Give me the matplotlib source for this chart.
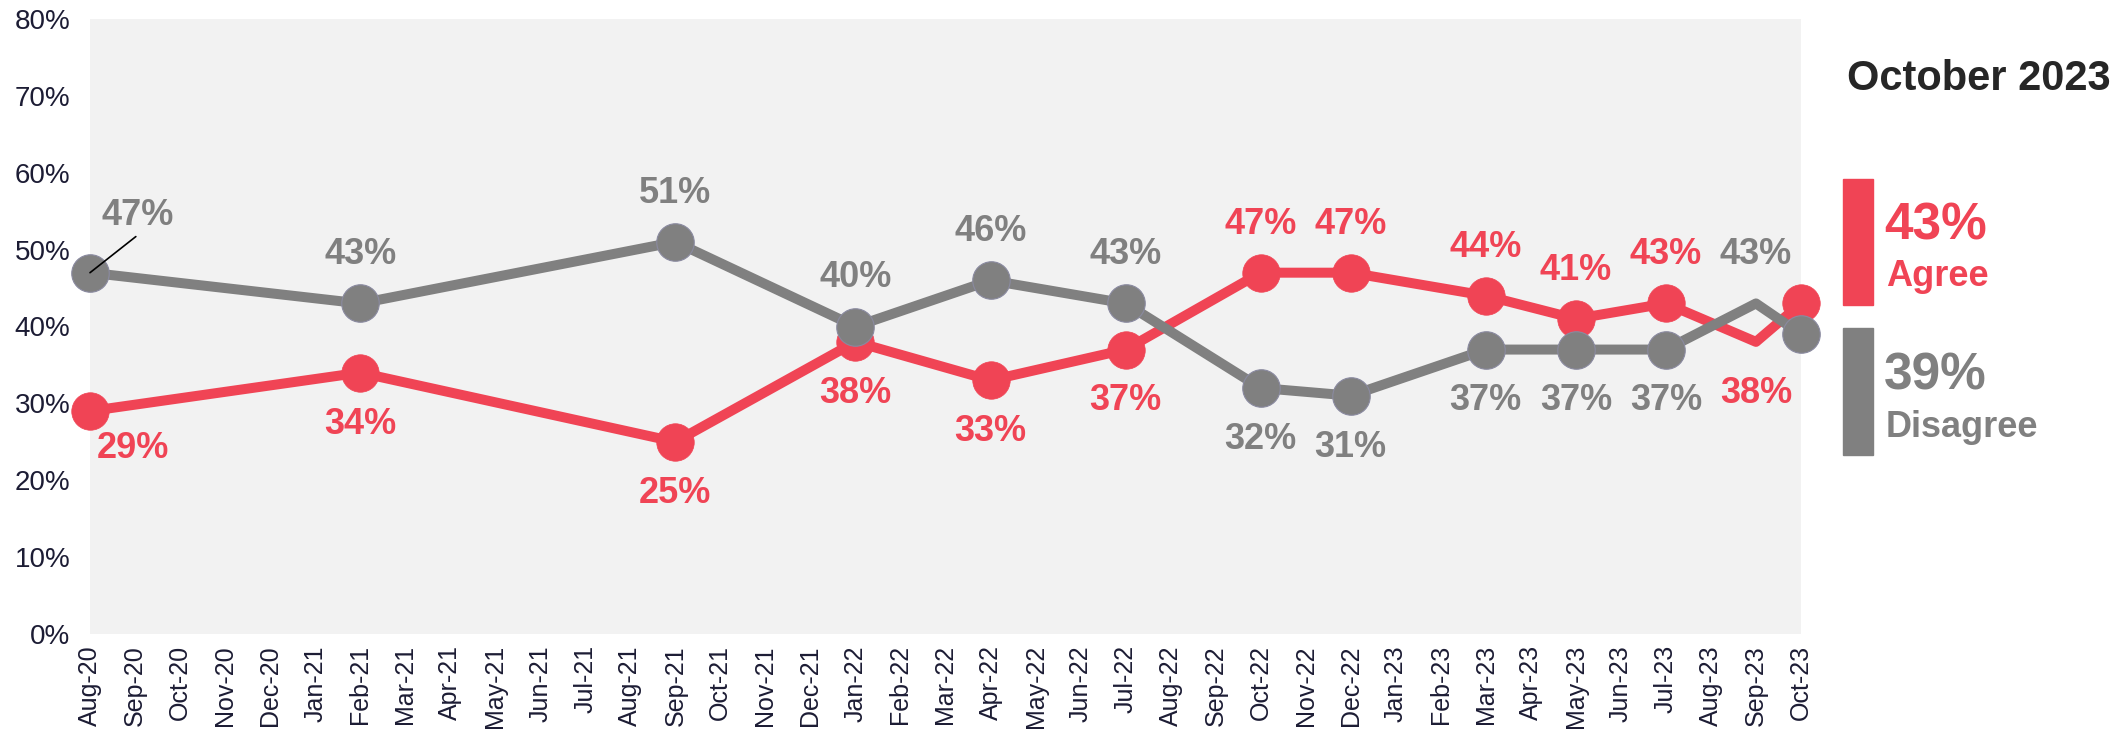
import matplotlib.pyplot as plt
from matplotlib.patches import Rectangle
from matplotlib.ticker import FuncFormatter

plt.rcParams['font.family'] = ['Liberation Sans', 'DejaVu Sans']

# monthly axis, Aug-20 .. Oct-23
months = ['Aug-20', 'Sep-20', 'Oct-20', 'Nov-20', 'Dec-20',
          'Jan-21', 'Feb-21', 'Mar-21', 'Apr-21', 'May-21', 'Jun-21', 'Jul-21',
          'Aug-21', 'Sep-21', 'Oct-21', 'Nov-21', 'Dec-21',
          'Jan-22', 'Feb-22', 'Mar-22', 'Apr-22', 'May-22', 'Jun-22', 'Jul-22',
          'Aug-22', 'Sep-22', 'Oct-22', 'Nov-22', 'Dec-22',
          'Jan-23', 'Feb-23', 'Mar-23', 'Apr-23', 'May-23', 'Jun-23', 'Jul-23',
          'Aug-23', 'Sep-23', 'Oct-23']

# survey waves
waves = ['Aug-20', 'Feb-21', 'Sep-21', 'Jan-22', 'Apr-22', 'Jul-22', 'Oct-22',
         'Dec-22', 'Mar-23', 'May-23', 'Jul-23', 'Sep-23', 'Oct-23']
agree = [29, 34, 25, 38, 33, 37, 47, 47, 44, 41, 43, 38, 43]
disagree = [47, 43, 51, 40, 46, 43, 32, 31, 37, 37, 37, 43, 39]
no_marker_wave = 'Sep-23'

RED = '#F04455'
GREY = '#808080'
TICK = '#1C1C34'

x = [months.index(w) for w in waves]
marked = [i for i, w in enumerate(waves) if w != no_marker_wave]

fig = plt.figure(figsize=(21.28, 7.39), dpi=100)
ax = fig.add_axes([90 / 2128, 1 - 634 / 739, (1801 - 90) / 2128, (634 - 19) / 739])
ax.set_facecolor('#F2F2F2')

ax.plot(x, agree, color=RED, lw=7.2, marker='o', ms=27, markevery=marked,
        mec=RED, mew=0.5, clip_on=False, zorder=3, solid_joinstyle='round')
ax.plot(x, disagree, color=GREY, lw=7.2, marker='o', ms=27, markevery=marked,
        mec='#8A8AA0', mew=0.8, clip_on=False, zorder=4, solid_joinstyle='round')

# data labels: above for the higher series, below for the lower one
for series, other, col in [(agree, disagree, RED), (disagree, agree, GREY)]:
    for i in range(len(waves) - 1):
        v = series[i]
        above = v > other[i]
        if i == 0:
            # first wave sits on the axis edge, so labels are pushed to the right
            if above:
                ax.annotate(f'{v}%', (x[i], v), xytext=(34, 41), textcoords='offset points',
                            ha='center', va='center', fontsize=26, fontweight='bold', color=col)
                ax.annotate('', (x[i], v), xytext=(33, 26), textcoords='offset points',
                            arrowprops=dict(arrowstyle='-', lw=1.2, color='black',
                                            shrinkA=0, shrinkB=0), zorder=6)
            else:
                ax.annotate(f'{v}%', (x[i], v), xytext=(31, -27), textcoords='offset points',
                            ha='center', va='center', fontsize=26, fontweight='bold', color=col)
            continue
        dy = 35 if above else -37
        ax.annotate(f'{v}%', (x[i], v), xytext=(0, dy), textcoords='offset points',
                    ha='center', va='center', fontsize=26, fontweight='bold', color=col)

ax.set_xlim(0, len(months) - 1)
ax.set_ylim(0, 80)
ax.set_xticks(range(len(months)))
ax.set_xticklabels(months, rotation=90, fontsize=18, color=TICK)
ax.set_yticks(range(0, 81, 10))
ax.yaxis.set_major_formatter(FuncFormatter(lambda v, p: f'{v:.0f}%'))
ax.tick_params(axis='y', labelsize=20, labelcolor=TICK, length=0, pad=14)
ax.tick_params(axis='x', length=0, pad=8)
for s in ax.spines.values():
    s.set_visible(False)

# latest wave summary on the right
W, H = 2128, 739
fig.text(1979 / W, 1 - 79 / H, 'October 2023', ha='center', va='center',
         fontsize=30, fontweight='bold', color='#262626')
fig.add_artist(Rectangle((1843 / W, 1 - 305 / H), 30 / W, 126 / H,
                         transform=fig.transFigure, color=RED))
fig.add_artist(Rectangle((1843 / W, 1 - 455 / H), 30 / W, 127 / H,
                         transform=fig.transFigure, color=GREY))
fig.text(1884 / W, 1 - 240 / H, f'{agree[-1]}%', ha='left', va='baseline',
         fontsize=37, fontweight='bold', color=RED)
fig.text(1886 / W, 1 - 286 / H, 'Agree', ha='left', va='baseline',
         fontsize=26, fontweight='bold', color=RED)
fig.text(1884 / W, 1 - 389 / H, f'{disagree[-1]}%', ha='left', va='baseline',
         fontsize=37, fontweight='bold', color=GREY)
fig.text(1886 / W, 1 - 437 / H, 'Disagree', ha='left', va='baseline',
         fontsize=26, fontweight='bold', color=GREY)

fig.savefig('out.png', dpi=100, facecolor='white')
